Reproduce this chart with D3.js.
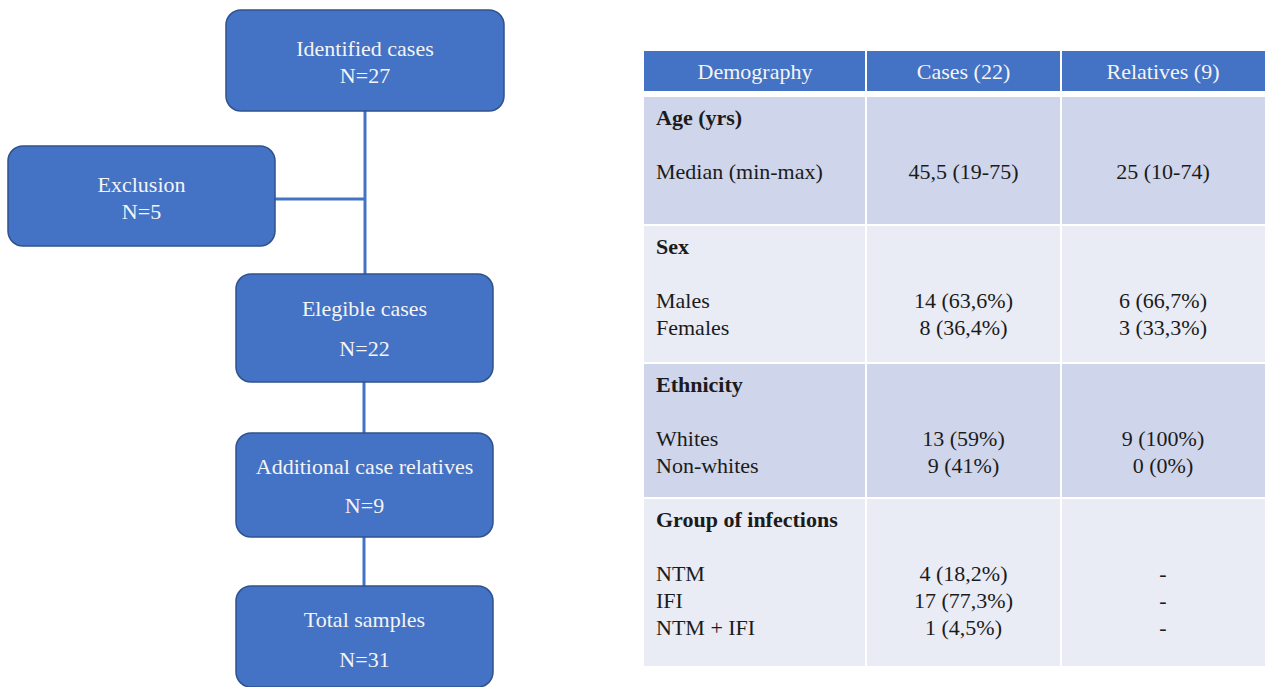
<!DOCTYPE html>
<html>
<head>
  <meta charset="UTF-8">
  <script src="https://d3js.org/d3.v7.min.js"></script>
  <style>
    body {
      margin: 0;
      background: #fff;
    }
    svg {
      display: block;
    }
  </style>
</head>
<body>
  <svg width="1265" height="687"></svg>

  <script>
    // ---- data ----
    const flowLabels = ["Identified cases", "Exclusion", "Elegible cases", "Additional case relatives", "Total samples"];
    const flowCounts = [27, 5, 22, 9, 31];

    const tableHeaders = ["Demography", "Cases (22)", "Relatives (9)"];
    const groups = ["Age (yrs)", "Sex", "Ethnicity", "Group of infections"];
    const groupItems = [
      ["Median (min-max)"],
      ["Males", "Females"],
      ["Whites", "Non-whites"],
      ["NTM", "IFI", "NTM + IFI"]
    ];
    const casesValues = [
      ["45,5 (19-75)"],
      ["14 (63,6%)", "8 (36,4%)"],
      ["13 (59%)", "9 (41%)"],
      ["4 (18,2%)", "17 (77,3%)", "1 (4,5%)"]
    ];
    const relativesValues = [
      ["25 (10-74)"],
      ["6 (66,7%)", "3 (33,3%)"],
      ["9 (100%)", "0 (0%)"],
      ["-", "-", "-"]
    ];

    // ---- layout ----
    // flowchart boxes: corners and the y of the two text lines
    const boxGeom = [
      { x0: 226, y0: 10,  x1: 504, y1: 111, t1: 48,  t2: 75 },
      { x0: 8,   y0: 146, x1: 275, y1: 246, t1: 184, t2: 211 },
      { x0: 236, y0: 274, x1: 493, y1: 382, t1: 308, t2: 348 },
      { x0: 236, y0: 433, x1: 493, y1: 537, t1: 466, t2: 505 },
      { x0: 236, y0: 586, x1: 493, y1: 687, t1: 619, t2: 659 }
    ];
    const flow = boxGeom.map((g, i) => ({ ...g, label: flowLabels[i], n: flowCounts[i] }));

    const colEdges = [644, 866, 1061, 1265];
    const headTop = 51, headBottom = 91;
    const rowBounds = [[97, 224], [226, 362], [364, 497], [499, 666]];
    const rowColors = ["#CFD5EA", "#E9EBF5"];
    const lineStep = 27;
    const blue = "#4472C4";
    const lightText = "#f4f4f4";
    const darkText = "#1b1b1b";

    const svg = d3.select("svg");

    // ---- flowchart ----
    const cx = 365;
    const links = [
      [[cx, flow[0].y1], [cx, flow[2].y0]],
      [[flow[1].x1, 199], [cx, 199]],
      [[364, flow[2].y1], [364, flow[3].y0]],
      [[364, flow[3].y1], [364, flow[4].y0]]
    ];
    svg.selectAll(".connector")
      .data(links)
      .enter()
      .append("path")
      .attr("class", "connector")
      .attr("d", d3.line())
      .attr("fill", "none")
      .attr("stroke", blue)
      .attr("stroke-width", 3);

    const boxes = svg.selectAll(".flow")
      .data(flow)
      .enter()
      .append("g")
      .attr("class", "flow");

    boxes.append("rect")
      .attr("x", d => d.x0)
      .attr("y", d => d.y0)
      .attr("width", d => d.x1 - d.x0)
      .attr("height", d => d.y1 - d.y0)
      .attr("rx", 15)
      .attr("ry", 15)
      .attr("fill", blue)
      .attr("stroke", "#2F528F")
      .attr("stroke-width", 1.5);

    boxes.append("text")
      .attr("x", d => (d.x0 + d.x1) / 2)
      .attr("y", d => d.t1)
      .attr("dy", "0.35em")
      .attr("text-anchor", "middle")
      .attr("fill", lightText)
      .text(d => d.label);

    boxes.append("text")
      .attr("x", d => (d.x0 + d.x1) / 2)
      .attr("y", d => d.t2)
      .attr("dy", "0.35em")
      .attr("text-anchor", "middle")
      .attr("fill", lightText)
      .text(d => "N=" + d.n);

    // ---- table ----
    // columns are not equal width, so map edges explicitly
    const colX0 = i => colEdges[i];
    const colX1 = i => colEdges[i + 1];
    const colMid = i => (colX0(i) + colX1(i)) / 2;

    svg.append("rect")
      .attr("x", colEdges[0])
      .attr("y", headTop)
      .attr("width", colEdges[3] - colEdges[0])
      .attr("height", headBottom - headTop)
      .attr("fill", blue);

    svg.selectAll(".head-label")
      .data(tableHeaders)
      .enter()
      .append("text")
      .attr("class", "head-label")
      .attr("x", (d, i) => colMid(i))
      .attr("y", (headTop + headBottom) / 2)
      .attr("dy", "0.35em")
      .attr("text-anchor", "middle")
      .attr("fill", lightText)
      .text(d => d);

    const rows = svg.selectAll(".row")
      .data(groups.map((g, i) => ({
        title: g,
        items: groupItems[i],
        cases: casesValues[i],
        relatives: relativesValues[i],
        top: rowBounds[i][0],
        bottom: rowBounds[i][1],
        idx: i
      })))
      .enter()
      .append("g")
      .attr("class", "row");

    rows.append("rect")
      .attr("x", colEdges[0])
      .attr("y", d => d.top)
      .attr("width", colEdges[3] - colEdges[0])
      .attr("height", d => d.bottom - d.top)
      .attr("fill", d => rowColors[d.idx % 2]);

    rows.append("text")
      .attr("x", colEdges[0] + 12)
      .attr("y", d => d.top + 20)
      .attr("dy", "0.35em")
      .attr("fill", darkText)
      .attr("font-weight", "bold")
      .text(d => d.title);

    const itemY = (d, i) => d.top + 20 + 2 * lineStep + i * lineStep;

    rows.each(function (d) {
      const g = d3.select(this);
      g.selectAll(".item")
        .data(d.items)
        .enter()
        .append("text")
        .attr("class", "item")
        .attr("x", colEdges[0] + 12)
        .attr("y", (v, i) => itemY(d, i))
        .attr("dy", "0.35em")
        .attr("fill", darkText)
        .text(v => v);

      g.selectAll(".case-val")
        .data(d.cases)
        .enter()
        .append("text")
        .attr("class", "case-val")
        .attr("x", colMid(1))
        .attr("y", (v, i) => itemY(d, i))
        .attr("dy", "0.35em")
        .attr("text-anchor", "middle")
        .attr("fill", darkText)
        .text(v => v);

      g.selectAll(".rel-val")
        .data(d.relatives)
        .enter()
        .append("text")
        .attr("class", "rel-val")
        .attr("x", colMid(2))
        .attr("y", (v, i) => itemY(d, i))
        .attr("dy", "0.35em")
        .attr("text-anchor", "middle")
        .attr("fill", darkText)
        .text(v => v);
    });

    // white column separators
    svg.selectAll(".col-sep")
      .data([1, 2])
      .enter()
      .append("line")
      .attr("class", "col-sep")
      .attr("x1", i => colX0(i))
      .attr("x2", i => colX0(i))
      .attr("y1", headTop)
      .attr("y2", rowBounds[rowBounds.length - 1][1])
      .attr("stroke", "#fff")
      .attr("stroke-width", 2);

    // serif face on every label
    svg.selectAll("text")
      .attr("font-family", "Liberation Serif")
      .style("font-family", '"Liberation Serif"')
      .style("font-size", "22px");
  </script>
</body>
</html>
